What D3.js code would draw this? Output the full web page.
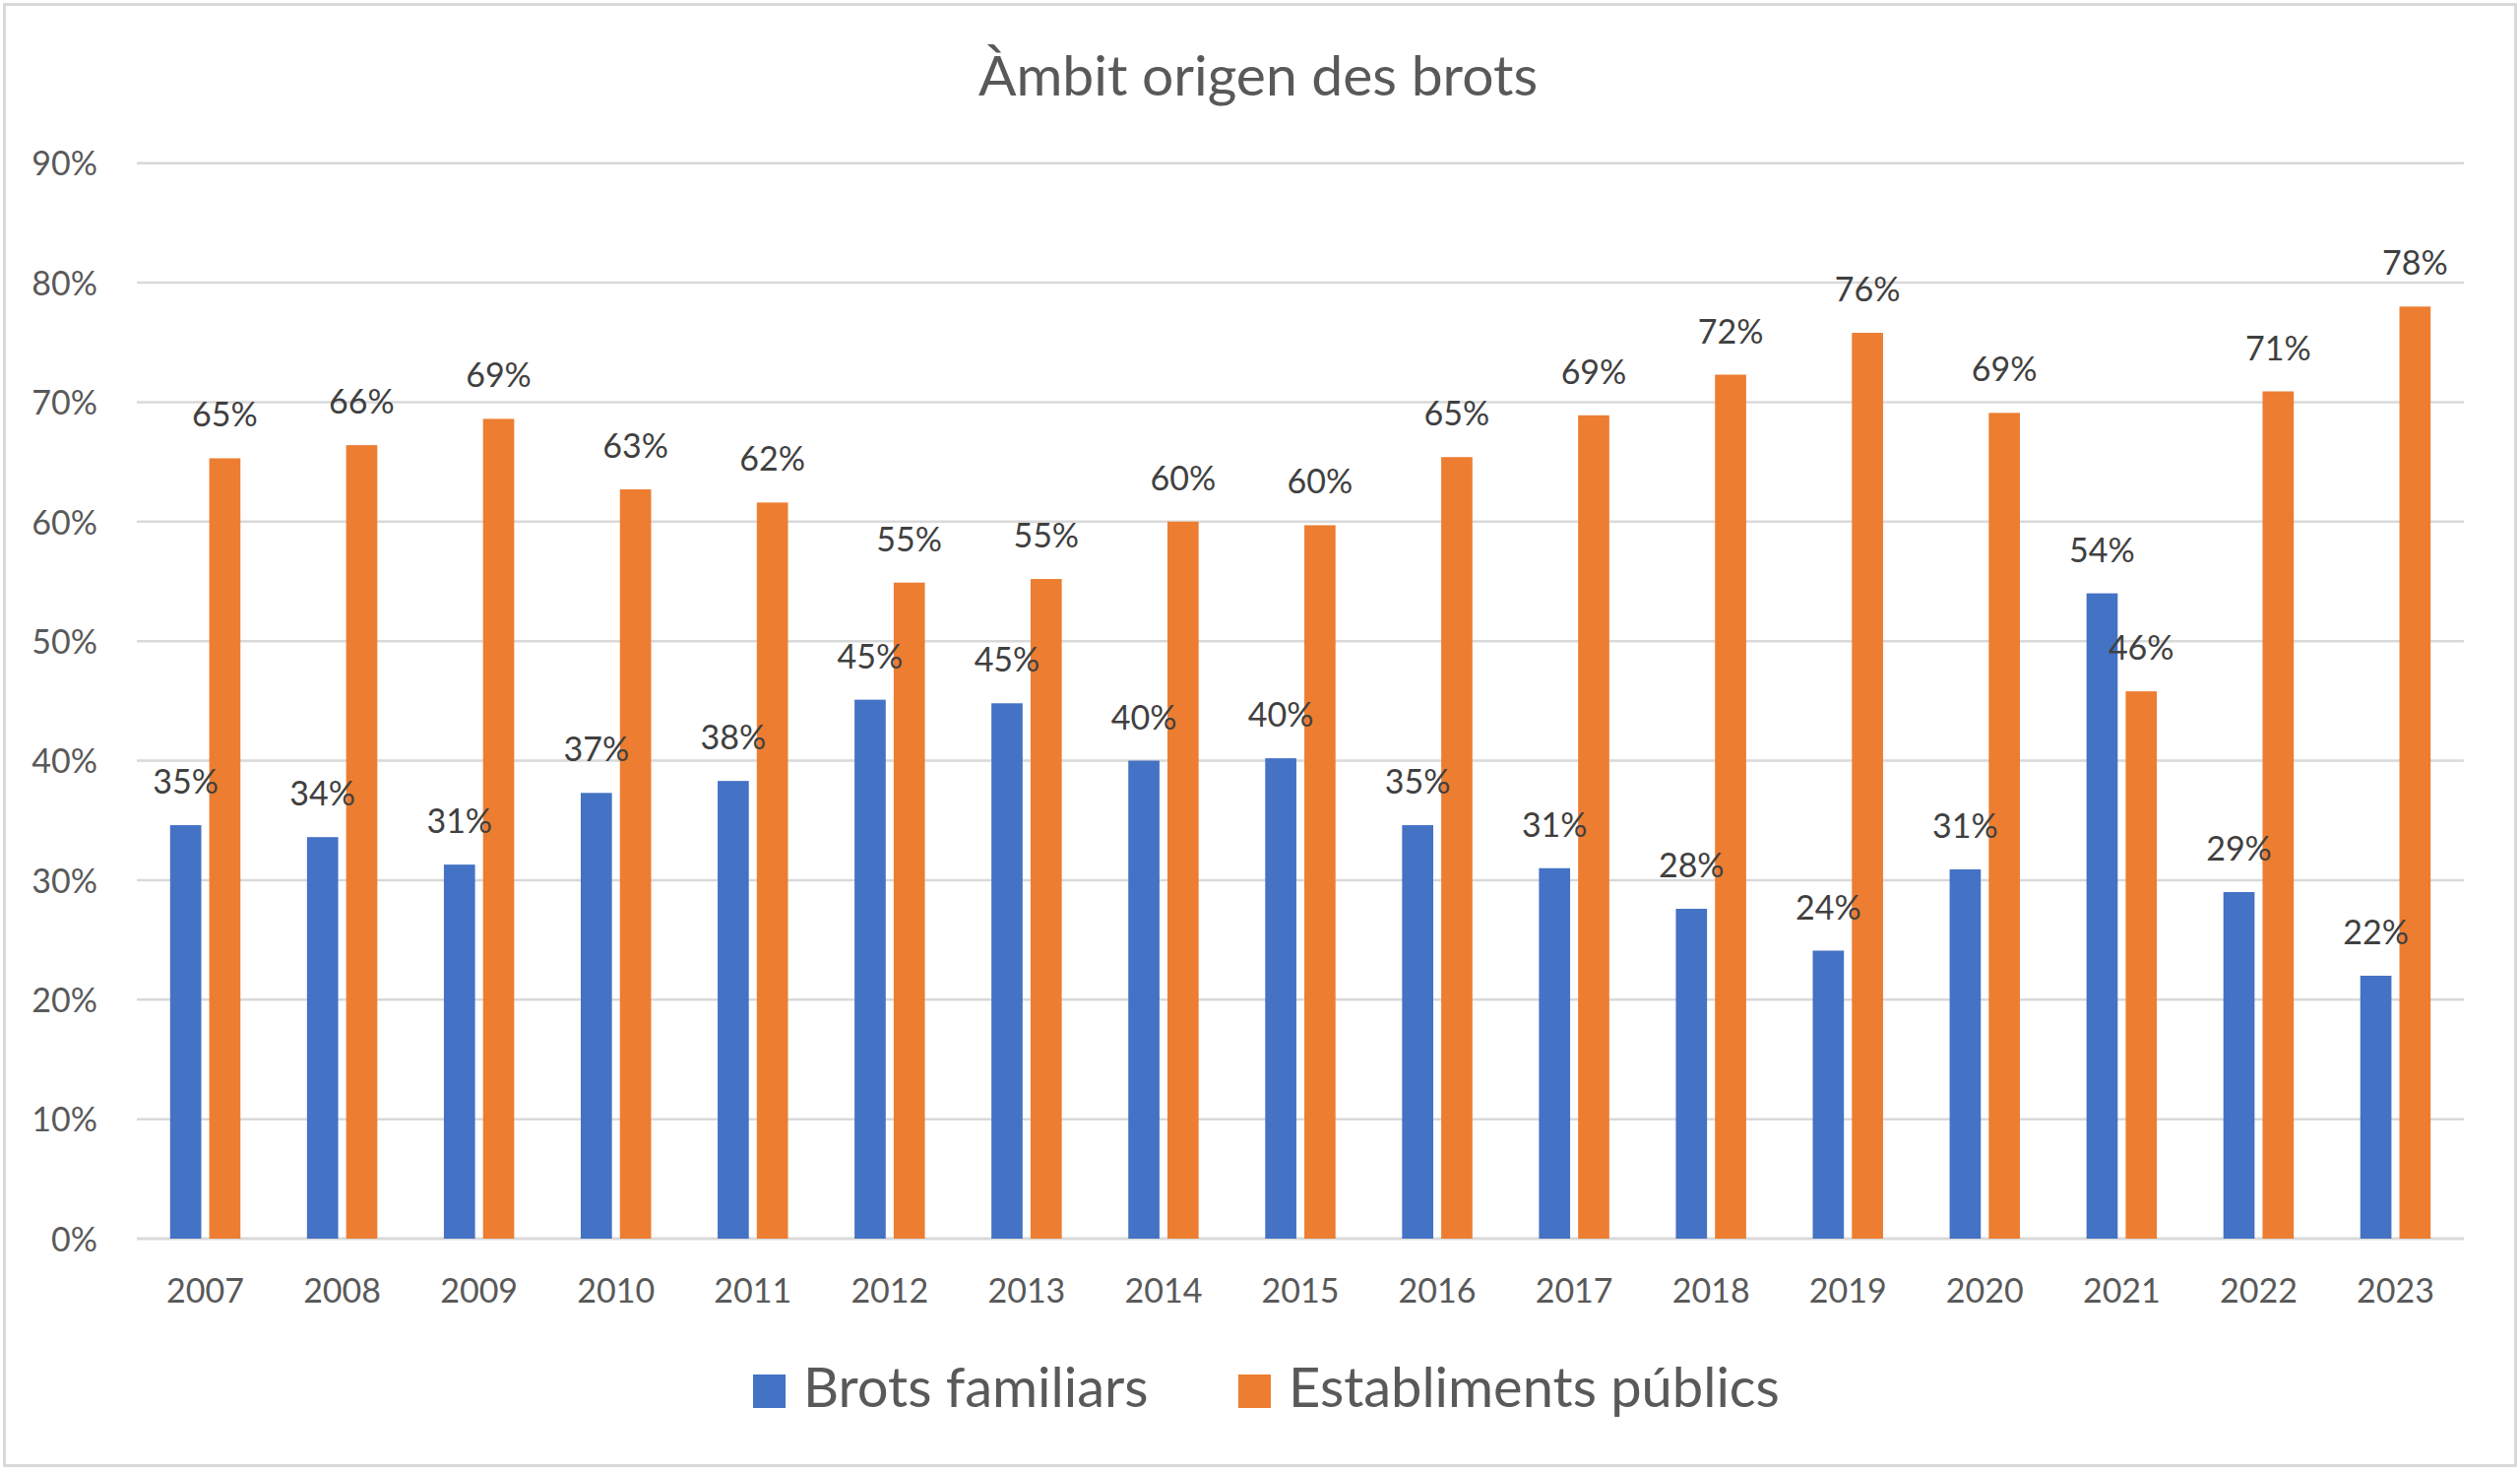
<!DOCTYPE html>
<html>
<head>
<meta charset="utf-8">
<script src="https://cdn.jsdelivr.net/npm/d3@7"></script>
<style>
  body { margin: 0; background: #fff; }
  text { font-family: Lato, "Noto Sans", sans-serif; }
</style>
</head>
<body>
<script>
// Data
let years = ["2007", "2008", "2009", "2010", "2011", "2012", "2013", "2014", "2015",
    "2016", "2017", "2018", "2019", "2020", "2021", "2022", "2023"];
let seriesNames = ["Brots familiars", "Establiments públics"];
let familiars = [34.6, 33.6, 31.3, 37.3, 38.3, 45.1, 44.8, 40.0, 40.2,
    34.6, 31.0, 27.6, 24.1, 30.9, 54.0, 29.0, 22.0];
let publics = [65.3, 66.4, 68.6, 62.7, 61.6, 54.9, 55.2, 60.0, 59.7,
    65.4, 68.9, 72.3, 75.8, 69.1, 45.8, 70.9, 78.0];
let yTicks = [0, 10, 20, 30, 40, 50, 60, 70, 80, 90];
let colors = ["#4472C4", "#ED7D31"];

// Size of the svg
let w = 2560;
let h = 1494;

let svg = d3.select("body").append("svg")
    .attr("width", w)
    .attr("height", h);

// light border round the chart area
svg.append("rect")
    .attr("x", 4.5).attr("y", 4.5)
    .attr("width", w - 9).attr("height", h - 10)
    .attr("fill", "white")
    .attr("stroke", "#d9d9d9")
    .attr("stroke-width", 3);

// Plot area
let plotLeft = 139, plotRight = 2503, plotTop = 165.7, plotBottom = 1258;

let y = d3.scaleLinear().domain([0, 90]).range([plotBottom, plotTop]);
let x0 = d3.scaleBand().domain(years).range([plotLeft, plotRight]).padding(0);
let x1 = d3.scaleBand().domain(seriesNames).range([0, x0.bandwidth()])
    .paddingInner(0.204).paddingOuter(0.85);

// gridlines
svg.append("g").selectAll("line").data(yTicks).enter().append("line")
    .attr("x1", plotLeft).attr("x2", plotRight)
    .attr("y1", d => y(d)).attr("y2", d => y(d))
    .attr("stroke", "#d9d9d9")
    .attr("stroke-width", d => d == 0 ? 3 : 2.5);

// y axis labels
let yAxis = svg.append("g")
    .attr("transform", "translate(" + plotLeft + ",0)")
    .call(d3.axisLeft(y).tickValues(yTicks).tickSize(0).tickPadding(40)
        .tickFormat(d => d + "%"));
yAxis.select(".domain").remove();
yAxis.selectAll("text")
    .attr("dy", "0.36em")
    .attr("font-size", 34)
    .attr("fill", "#595959")
    .style("font-family", "Lato");

// x axis labels
let xAxis = svg.append("g")
    .attr("transform", "translate(0," + plotBottom + ")")
    .call(d3.axisBottom(x0).tickSize(0).tickPadding(65));
xAxis.select(".domain").remove();
xAxis.selectAll("text")
    .attr("dy", 0)
    .attr("font-size", 34)
    .attr("fill", "#595959")
    .style("font-family", "Lato");

// build the rows for the bars
let rows = [];
years.forEach(function (yr, i) {
    rows.push({ year: yr, series: seriesNames[0], value: familiars[i], c: colors[0] });
    rows.push({ year: yr, series: seriesNames[1], value: publics[i], c: colors[1] });
});

// bars
svg.append("g").selectAll("rect").data(rows).enter().append("rect")
    .attr("x", d => x0(d.year) + x1(d.series))
    .attr("y", d => y(d.value))
    .attr("width", x1.bandwidth())
    .attr("height", d => y(0) - y(d.value))
    .attr("fill", d => d.c);

// data labels
svg.append("g").selectAll("text").data(rows).enter().append("text")
    .attr("x", d => x0(d.year) + x1(d.series) + x1.bandwidth() / 2)
    .attr("y", d => y(d.value) - 32)
    .attr("text-anchor", "middle")
    .attr("font-size", 34)
    .attr("fill", "#404040")
    .text(d => Math.round(d.value) + "%");

// title
svg.append("text")
    .attr("x", 1278)
    .attr("y", 97)
    .attr("text-anchor", "middle")
    .attr("font-size", 57)
    .attr("fill", "#595959")
    .text("Àmbit origen des brots");

// legend
let legendX = [765, 1258];
let legend = svg.append("g").selectAll("g").data(seriesNames).enter().append("g")
    .attr("transform", (d, i) => "translate(" + legendX[i] + ",1396)");
legend.append("rect")
    .attr("width", 33).attr("height", 34)
    .attr("fill", (d, i) => colors[i]);
legend.append("text")
    .attr("x", 51)
    .attr("y", 33)
    .attr("font-size", 56)
    .attr("fill", "#595959")
    .text(d => d);
</script>
</body>
</html>
